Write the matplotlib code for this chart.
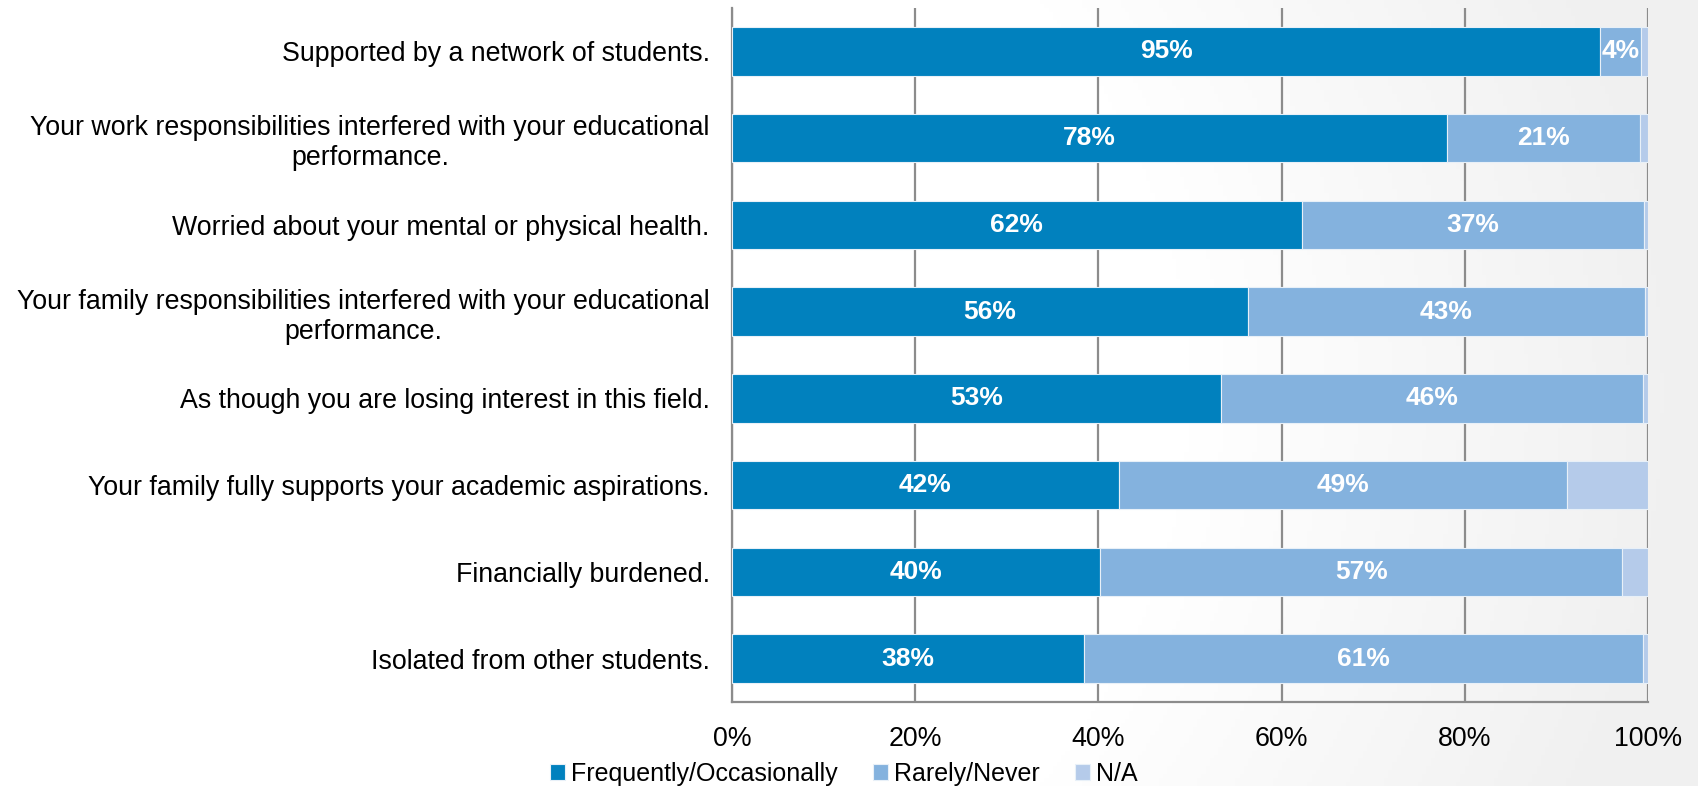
import numpy as np
from matplotlib import pyplot as plt
from matplotlib.colors import LinearSegmentedColormap

plt.rcParams['font.family'] = ['Liberation Sans', 'DejaVu Sans']

categories = [
    "Supported by a network of students.",
    "Your work responsibilities interfered with your educational\nperformance.",
    "Worried about your mental or physical health.",
    "Your family responsibilities interfered with your educational\nperformance.",
    "As though you are losing interest in this field.",
    "Your family fully supports your academic aspirations.",
    "Financially burdened.",
    "Isolated from other students.",
]
frequently = [94.8, 78.0, 62.2, 56.3, 53.4, 42.2, 40.2, 38.4]
rarely = [4.4, 21.1, 37.4, 43.4, 46.0, 48.9, 57.0, 61.1]
na = [0.8, 0.9, 0.4, 0.3, 0.6, 8.9, 2.8, 0.5]
series_names = ["Frequently/Occasionally", "Rarely/Never", "N/A"]
colors = ["#0181BE", "#84B2DE", "#B5CBEA"]
x_ticks = [0, 20, 40, 60, 80, 100]

fig = plt.figure(figsize=(16.98, 7.86), dpi=100)

# soft shading toward the right edge, behind everything
bg = fig.add_axes([0, 0, 1, 1], zorder=-10)
gx, gy = np.meshgrid(np.linspace(0, 1, 400), np.linspace(0, 1, 200))
r = np.sqrt(((gx - 0.1) / 1.0) ** 2 + ((gy - 0.5) / 1.6) ** 2)
shade = np.clip((r - 0.6) / 0.3, 0, 1)
cmap = LinearSegmentedColormap.from_list("bg", ["#ffffff", "#f0f0f0"])
bg.imshow(shade, cmap=cmap, aspect='auto', extent=[0, 1, 0, 1], vmin=0, vmax=1)
bg.axis('off')

ax = fig.add_axes([0.4311, 0.1069, 0.9706 - 0.4311, 0.9898 - 0.1069])
ax.patch.set_alpha(0)

y = np.arange(len(categories))
data = [frequently, rarely, na]
left = np.zeros(len(categories))
for vals, name, c in zip(data, series_names, colors):
    vals = np.array(vals)
    bars = ax.barh(y, vals, left=left, height=0.56, color=c, edgecolor='#e8f0f8',
                   linewidth=0.8, label=name, zorder=3)
    if name != "N/A":
        for b, v in zip(bars, vals):
            ax.text(b.get_x() + b.get_width() / 2, b.get_y() + b.get_height() / 2,
                    f"{v:.0f}%", ha='center', va='center', color='white',
                    fontsize=19, fontweight='bold', zorder=4)
    left += vals

ax.set_xlim(0, 100)
ax.set_ylim(len(categories) - 0.5, -0.5)
ax.set_xticks(x_ticks)
ax.set_xticklabels([f"{t}%" for t in x_ticks])
ax.set_yticks(y)
ax.set_yticklabels(categories)
for lbl in ax.get_yticklabels():
    lbl.set_multialignment('center')
ax.tick_params(axis='both', length=0, labelsize=19.3)
ax.tick_params(axis='x', pad=17)
ax.tick_params(axis='y', pad=16)

ax.xaxis.grid(True, color='#8c8c8c', linewidth=1.6, zorder=0)
for s in ['top', 'right']:
    ax.spines[s].set_visible(False)
ax.spines['left'].set_color('#8c8c8c')
ax.spines['left'].set_linewidth(1.6)
ax.spines['bottom'].set_color('#8c8c8c')
ax.spines['bottom'].set_linewidth(1.6)

fig.legend(loc='lower center', bbox_to_anchor=(0.497, -0.028), ncol=3, frameon=False,
           fontsize=18, handlelength=0.6, handleheight=0.6, handletextpad=0.25,
           columnspacing=1.4)

fig.savefig("out.png", dpi=100)
